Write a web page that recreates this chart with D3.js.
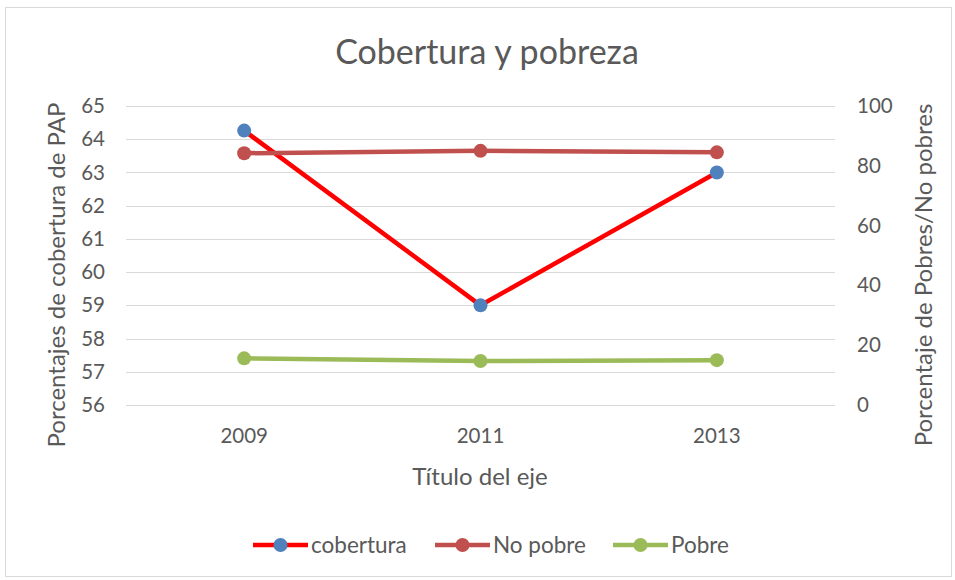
<!DOCTYPE html>
<html><head><meta charset="utf-8">
<script src="https://cdn.jsdelivr.net/npm/d3@7"></script>
<style>body{margin:0;background:#fff}svg{display:block}text{font-family:Lato,"Open Sans",sans-serif;fill:#595959}</style>
</head><body>
<script>
const categories = ["2009", "2011", "2013"];
const cobertura = [64.26, 59.0, 63.0];
const noPobre = [84.2, 85.0, 84.5];
const pobre = [15.6, 14.7, 15.0];
const leftTicks = [56, 57, 58, 59, 60, 61, 62, 63, 64, 65];
const rightTicks = [0, 20, 40, 60, 80, 100];
const seriesNames = ["cobertura", "No pobre", "Pobre"];

const W = 955, H = 580;
const m = {left: 126, right: 835, top: 106, bottom: 405};
const svg = d3.select("body").append("svg").attr("width", W).attr("height", H);
svg.append("rect").attr("x", 5.5).attr("y", 7.5).attr("width", 946).attr("height", 569)
  .attr("fill", "#fff").attr("stroke", "#d9d9d9").attr("stroke-width", 1);

const x = d3.scaleBand().domain(categories).range([m.left, m.right]);
const yL = d3.scaleLinear().domain([56, 65]).range([m.bottom, m.top]);
const yR = d3.scaleLinear().domain([0, 100]).range([m.bottom, m.top]);
const cx = d => x(d) + x.bandwidth() / 2;

// gridlines
svg.append("g").selectAll("line").data(leftTicks).join("line")
  .attr("x1", m.left).attr("x2", m.right)
  .attr("y1", d => Math.round(yL(d)) + 0.5).attr("y2", d => Math.round(yL(d)) + 0.5)
  .attr("stroke", "#d9d9d9").attr("stroke-width", 1);

const tickFont = "20.5px";
// left axis
const gl = svg.append("g").attr("transform", `translate(${m.left},0)`)
  .call(d3.axisLeft(yL).tickValues(leftTicks).tickSize(0).tickPadding(21));
gl.select(".domain").remove();
gl.selectAll("text").style("font-size", tickFont).attr("fill", "#595959");

// right axis
const gr = svg.append("g").attr("transform", `translate(${m.right},0)`)
  .call(d3.axisRight(yR).tickValues(rightTicks).tickSize(0).tickPadding(22));
gr.select(".domain").remove();
gr.selectAll("text").style("font-size", tickFont).attr("fill", "#595959");

// bottom axis
const gb = svg.append("g").attr("transform", `translate(0,${m.bottom})`)
  .call(d3.axisBottom(x).tickSize(0).tickPadding(23));
gb.select(".domain").remove();
gb.selectAll("text").style("font-size", tickFont).attr("fill", "#595959");

// titles
svg.append("text").attr("x", 487).attr("y", 64).attr("text-anchor", "middle")
  .style("font-size", "34px").text("Cobertura y pobreza");
svg.append("text").attr("x", 480).attr("y", 485).attr("text-anchor", "middle")
  .style("font-size", "24px").text("Título del eje");
svg.append("text").attr("transform", "translate(65,275) rotate(-90)").attr("text-anchor", "middle")
  .style("font-size", "24px").text("Porcentajes de cobertura de PAP");
svg.append("text").attr("transform", "translate(932,275) rotate(-90)").attr("text-anchor", "middle")
  .style("font-size", "24px").text("Porcentaje de Pobres/No pobres");

const series = [
  {name: seriesNames[0], vals: cobertura, y: yL, line: "#ff0000", marker: "#4f81bd", w: 4.5},
  {name: seriesNames[1], vals: noPobre, y: yR, line: "#c0504d", marker: "#c0504d", w: 4.5},
  {name: seriesNames[2], vals: pobre, y: yR, line: "#9bbb59", marker: "#9bbb59", w: 4.5}
];
series.forEach(s => {
  const pts = categories.map((c, i) => [cx(c), s.y(s.vals[i])]);
  svg.append("path").attr("d", d3.line()(pts)).attr("fill", "none")
    .attr("stroke", s.line).attr("stroke-width", s.w).attr("stroke-linejoin", "round");
  svg.append("g").selectAll("circle").data(pts).join("circle")
    .attr("cx", d => d[0]).attr("cy", d => d[1]).attr("r", 7).attr("fill", s.marker);
});

// legend
const legX = [253, 435, 613];
series.forEach((s, i) => {
  const g = svg.append("g").attr("transform", `translate(${legX[i]},545)`);
  g.append("line").attr("x1", 0).attr("x2", 55).attr("y1", 0).attr("y2", 0)
    .attr("stroke", s.line).attr("stroke-width", 4.5);
  g.append("circle").attr("cx", 27.5).attr("cy", 0).attr("r", 7).attr("fill", s.marker);
  g.append("text").attr("x", 58).attr("y", 0).attr("dy", "0.35em")
    .style("font-size", "22.5px").text(s.name);
});
</script>
</body></html>
